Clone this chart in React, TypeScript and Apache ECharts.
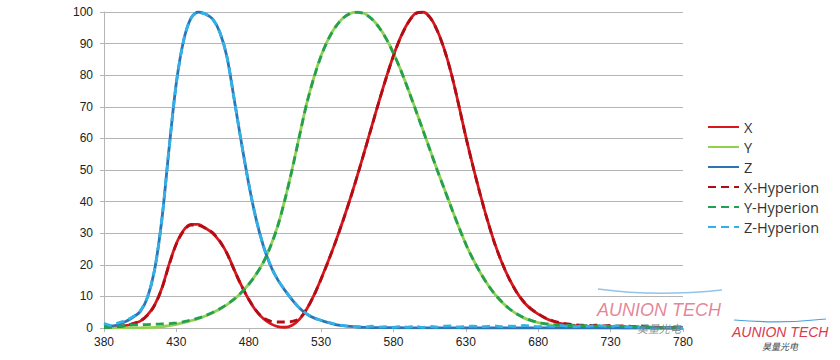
import React, { useEffect, useRef } from "react";
import * as echarts from "echarts";

const wavelengths = [
  380, 385, 390, 395, 400, 405, 410, 415, 420, 425, 430, 435, 440, 445, 450, 455, 460, 465, 470, 475, 480,
  485, 490, 495, 500, 505, 510, 515, 520, 525, 530, 535, 540, 545, 550, 555, 560, 565, 570, 575, 580,
  585, 590, 595, 600, 605, 610, 615, 620, 625, 630, 635, 640, 645, 650, 655, 660, 665, 670, 675, 680,
  685, 690, 695, 700, 705, 710, 715, 720, 725, 730, 735, 740, 745, 750, 755, 760, 765, 770, 775, 780,
];

const xValues = [
  0.13, 0.21, 0.4, 0.72, 1.35, 2.18, 4.1, 7.31, 12.65, 20.22, 26.73, 30.93, 32.79, 32.77, 31.65, 30.0, 27.38, 23.64, 18.39, 13.38, 9.0,
  5.46, 3.01, 1.38, 0.46, 0.23, 0.88, 2.74, 5.96, 10.32, 15.58, 21.25, 27.34, 33.86, 40.81, 48.21, 55.97, 63.87, 71.75, 79.32, 86.26,
  92.13, 96.62, 99.48, 100.0, 98.44, 94.39, 88.34, 80.44, 70.74, 60.48, 51.02, 42.17, 33.97, 26.69, 20.59, 15.52, 11.41, 8.23, 5.99, 4.4,
  3.1, 2.14, 1.49, 1.07, 0.76, 0.55, 0.39, 0.27, 0.19, 0.14, 0.1, 0.07, 0.05, 0.03, 0.02, 0.02, 0.01, 0.01, 0.01, 0.0,
];

const yValues = [
  0.0, 0.01, 0.01, 0.02, 0.04, 0.06, 0.12, 0.22, 0.4, 0.73, 1.16, 1.68, 2.3, 2.98, 3.8, 4.8, 6.0, 7.39, 9.1, 11.26, 13.9,
  16.93, 20.8, 25.86, 32.3, 40.73, 50.3, 60.82, 71.0, 79.32, 86.2, 91.49, 95.4, 98.03, 99.5, 100.0, 99.5, 97.86, 95.2, 91.54, 87.0,
  81.63, 75.7, 69.49, 63.1, 56.68, 50.3, 44.12, 38.1, 32.1, 26.5, 21.7, 17.5, 13.82, 10.7, 8.16, 6.1, 4.46, 3.2, 2.32, 1.7,
  1.19, 0.82, 0.57, 0.41, 0.29, 0.21, 0.15, 0.1, 0.07, 0.05, 0.04, 0.03, 0.02, 0.01, 0.01, 0.01, 0.01, 0.0, 0.0, 0.0,
];

const zValues = [
  0.36, 0.59, 1.12, 2.03, 3.4, 5.2, 9.6, 18.5, 34.5, 57.0, 77.7, 91.0, 98.0, 100.0, 99.4, 97.8, 93.6, 85.7, 72.2, 58.5, 45.6,
  34.6, 26.1, 19.8, 15.3, 11.9, 8.9, 6.3, 4.4, 3.2, 2.4, 1.7, 1.1, 0.75, 0.49, 0.32, 0.22, 0.15, 0.12, 0.1, 0.09,
  0.08, 0.06, 0.06, 0.04, 0.03, 0.02, 0.01, 0.01, 0.01, 0, 0, 0, 0, 0, 0, 0, 0, 0, 0, 0,
  0, 0, 0, 0, 0, 0, 0, 0, 0, 0, 0, 0, 0, 0, 0, 0, 0, 0, 0, 0,
];

const xHyperion = [
  0.3, 0.35, 0.5, 0.8, 1.4, 2.2, 4.0, 7.2, 12.5, 20.0, 26.6, 30.7, 32.6, 32.5, 31.6, 30.2, 27.5, 23.5, 18.3, 13.3, 9.1,
  5.6, 3.2, 2.2, 1.9, 1.9, 2.1, 3.0, 6.0, 10.3, 15.5, 21.2, 27.3, 33.8, 40.7, 48.1, 55.9, 63.8, 71.7, 79.2, 86.2,
  92.0, 96.5, 99.4, 99.9, 98.4, 94.3, 88.3, 80.4, 70.7, 60.4, 51.0, 42.1, 33.9, 26.6, 20.6, 15.5, 11.4, 8.3, 6.1, 4.5,
  3.2, 2.3, 1.7, 1.3, 1.0, 0.9, 0.8, 0.9, 0.7, 0.8, 0.6, 0.7, 0.5, 0.5, 0.4, 0.3, 0.0, 0.0, 0.0, 0.0,
];

const yHyperion = [
  0.2, 0.3, 0.5, 0.8, 1.0, 1.0, 1.1, 1.2, 1.3, 1.4, 1.6, 2.0, 2.5, 3.1, 3.9, 4.9, 6.1, 7.5, 9.2, 11.3, 13.8,
  16.9, 20.7, 25.8, 32.2, 40.6, 50.2, 60.7, 70.9, 79.2, 86.1, 91.4, 95.3, 98.0, 99.5, 99.9, 99.4, 97.8, 95.1, 91.5, 86.9,
  81.6, 75.6, 69.4, 63.0, 56.6, 50.2, 44.1, 38.0, 32.1, 26.5, 21.7, 17.5, 13.8, 10.7, 8.2, 6.1, 4.5, 3.3, 2.4, 1.8,
  1.4, 1.1, 0.9, 0.8, 0.9, 0.7, 0.8, 0.6, 0.7, 0.5, 0.6, 0.5, 0.4, 0.4, 0.3, 0.2, 0.0, 0.0, 0.0, 0.0,
];

const zHyperion = [
  1.5, 0.8, 1.6, 2.4, 3.6, 5.4, 9.8, 18.6, 34.4, 57.0, 77.6, 91.0, 98.0, 99.8, 99.4, 97.8, 93.6, 85.6, 72.3, 58.4, 45.7,
  34.6, 26.2, 19.9, 15.3, 12.0, 9.0, 6.4, 4.5, 3.3, 2.4, 1.8, 1.2, 0.8, 0.5, 0.4, 0.3, 0.6, 0.3, 0.4, 0.2,
  0.5, 0.3, 0.6, 0.2, 0.5, 0.3, 0.6, 0.7, 0.3, 0.5, 0.6, 0.4, 0.5, 0.7, 0.4, 0.6, 0.5, 0.8, 0.6, 0.4,
  0.7, 0.5, 0.8, 0.6, 0.4, 0.7, 0.5, 0.8, 0.6, 0.5, 0.7, 0.4, 0.3, 0.2, 0.0, 0.0, 0.0, 0.0, 0.0, 0.0,
];

const seriesNames = ["X", "Y", "Z", "X-Hyperion", "Y-Hyperion", "Z-Hyperion"];
const seriesColors = ["#d7191f", "#92d050", "#2e74b5", "#b00d14", "#23a052", "#30b2e8"];
const xTicks = [380, 430, 480, 530, 580, 630, 680, 730, 780];

export default function App() {
  const ref = useRef<HTMLDivElement>(null);
  useEffect(() => {
    if (!ref.current) return;
    const chart = echarts.init(ref.current, null, { renderer: "svg" });
    const allValues = [xValues, yValues, zValues, xHyperion, yHyperion, zHyperion];
    const series = seriesNames.map((name, i) => ({
      name,
      type: "line",
      data: wavelengths.map((w, j) => [w, allValues[i][j]]),
      symbol: "none",
      showSymbol: false,
      smooth: 0.3,
      z: i < 3 ? 2 : 3,
      lineStyle: {
        color: seriesColors[i],
        width: 2.8,
        type: i < 3 ? "solid" : [8, 5],
      },
      itemStyle: { color: seriesColors[i] },
    }));
    const grey = "#b5b5b5";
    const font = "Liberation Sans";
    chart.setOption({
      animation: false,
      backgroundColor: "#ffffff",
      grid: { left: 104, right: 157, top: 12, bottom: 32, containLabel: false },
      xAxis: {
        type: "value",
        min: xTicks[0],
        max: xTicks[xTicks.length - 1],
        interval: 50,
        axisLine: { show: true, lineStyle: { color: grey, width: 1 } },
        axisTick: { show: true, length: 4, lineStyle: { color: grey } },
        axisLabel: { color: "#222", fontSize: 12, fontFamily: font, margin: 8 },
        splitLine: { show: false },
      },
      yAxis: {
        type: "value",
        min: 0,
        max: 100,
        interval: 10,
        axisLine: { show: true, lineStyle: { color: grey, width: 1 } },
        axisTick: { show: true, length: 4, lineStyle: { color: grey } },
        axisLabel: { color: "#222", fontSize: 12, fontFamily: font, margin: 11 },
        splitLine: { show: true, lineStyle: { color: grey, width: 1 } },
      },
      legend: {
        orient: "vertical",
        left: 707,
        top: 119,
        itemWidth: 31,
        itemHeight: 14,
        itemGap: 4,
        padding: 0,
        data: seriesNames,
        itemStyle: { opacity: 0 },
        textStyle: { color: "#333", fontSize: 14.5, lineHeight: 16, fontFamily: "Open Sans" },
      },
      series,
      graphic: [
        {
          type: "bezierCurve",
          silent: true,
          z: 10,
          shape: { x1: 598, y1: 289, x2: 722, y2: 290, cpx1: 655, cpy1: 297 },
          style: { stroke: "rgba(120,180,225,0.8)", lineWidth: 1.5, fill: null },
        },
        {
          type: "text",
          silent: true,
          z: 10,
          x: 597,
          y: 301,
          style: {
            text: "AUNION TECH",
            font: 'italic 18px "Liberation Sans"',
            lineHeight: 18,
            fill: "rgba(222,100,125,0.78)",
            verticalAlign: "top",
          },
        },
        {
          type: "text",
          silent: true,
          z: 10,
          x: 637,
          y: 322,
          style: {
            text: "昊量光电",
            font: 'italic 11px "Noto Sans CJK SC"',
            lineHeight: 11,
            fill: "rgba(110,110,110,0.8)",
            verticalAlign: "top",
          },
        },
        {
          type: "bezierCurve",
          silent: true,
          z: 10,
          shape: { x1: 734, y1: 320, x2: 826, y2: 319, cpx1: 780, cpy1: 324 },
          style: { stroke: "#4a9fd6", lineWidth: 1.2, fill: null },
        },
        {
          type: "text",
          silent: true,
          z: 10,
          x: 732,
          y: 325,
          style: {
            text: "AUNION TECH",
            font: 'italic 14px "Liberation Sans"',
            lineHeight: 14,
            fill: "#d93a4c",
            verticalAlign: "top",
          },
        },
        {
          type: "text",
          silent: true,
          z: 10,
          x: 762,
          y: 342,
          style: {
            text: "昊量光电",
            font: 'italic 9px "Noto Sans CJK SC"',
            lineHeight: 9,
            fill: "#444",
            verticalAlign: "top",
          },
        },
      ],
    });
    return () => chart.dispose();
  }, []);
  return (
    <div
      ref={ref}
      style={{ position: "fixed", left: 0, top: 0, width: 840, height: 360, background: "#fff" }}
    />
  );
}
